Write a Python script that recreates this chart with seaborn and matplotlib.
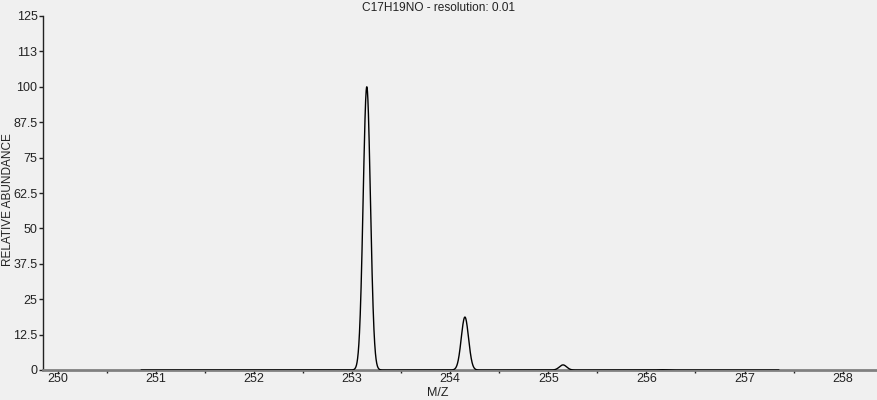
import numpy as np
import pandas as pd
import seaborn as sns
import matplotlib.pyplot as plt
from matplotlib.ticker import FixedLocator, MultipleLocator

# isotope peaks
peak_mz = [253.15, 254.15, 255.15, 256.15]
peak_abundance = [100.0, 18.7, 1.8, 0.1]
peak_sigma = 0.037            # peak width as drawn
mz_range = [250.85, 257.35]   # span of the drawn profile

y_ticks = [0, 12.5, 25, 37.5, 50, 62.5, 75, 87.5, 100, 112.5, 125]
y_labels = ["0", "12.5", "25", "37.5", "50", "62.5", "75", "87.5", "100", "113", "125"]
x_ticks = [250, 251, 252, 253, 254, 255, 256, 257, 258]

# broaden the stick spectrum into a profile
mz = np.linspace(mz_range[0], mz_range[1], 6000)
abundance = np.zeros_like(mz)
for c, h in zip(peak_mz, peak_abundance):
    abundance += h * np.exp(-0.5 * ((mz - c) / peak_sigma) ** 2)
df = pd.DataFrame({"mz": mz, "abundance": abundance})

sns.set_style("white")
plt.rcParams["font.family"] = ["Liberation Sans", "DejaVu Sans"]
bg = "#f0f0f0"
ink = "#222222"

fig = plt.figure(figsize=(8.77, 4.0), dpi=100, facecolor=bg)
ax = fig.add_axes([43 / 877, 30 / 400, 1 - 43 / 877, 354 / 400])
ax.set_facecolor(bg)

sns.lineplot(data=df, x="mz", y="abundance", color="black", linewidth=1.0, ax=ax, zorder=3)

ax.set_xlim(249.85, 258.35)
ax.set_ylim(0, 125)
ax.yaxis.set_major_locator(FixedLocator(y_ticks))
ax.set_yticklabels(y_labels)
ax.xaxis.set_major_locator(FixedLocator(x_ticks))
ax.xaxis.set_minor_locator(MultipleLocator(0.5))

for s in ["top", "right"]:
    ax.spines[s].set_visible(False)
ax.spines["left"].set_color(ink)
ax.spines["left"].set_linewidth(1.0)
ax.spines["bottom"].set_color("#808080")
ax.spines["bottom"].set_linewidth(2.0)

ax.tick_params(axis="both", which="major", direction="out", length=3, width=1,
               color=ink, labelsize=9, labelcolor=ink, pad=1)
ax.tick_params(axis="x", which="major", pad=-0.5)
ax.tick_params(axis="x", which="minor", direction="out", length=2, width=1, color=ink)
ax.tick_params(axis="x", which="both", bottom=True)
ax.tick_params(axis="y", left=True)

ax.set_xlabel("M/Z", fontsize=9, color=ink, va="center")
ax.xaxis.set_label_coords((438 - 43) / 834, (370 - 393) / 354)
ax.set_ylabel("RELATIVE ABUNDANCE", fontsize=8.5, color=ink, va="center")
ax.yaxis.set_label_coords((8 - 43) / 834, (370 - 200) / 354)

fig.text(0.5, 1 - 8 / 400, "C17H19NO - resolution: 0.01", fontsize=8.6, color=ink,
         ha="center", va="center")

fig.savefig("out.png", dpi=100, facecolor=bg)
